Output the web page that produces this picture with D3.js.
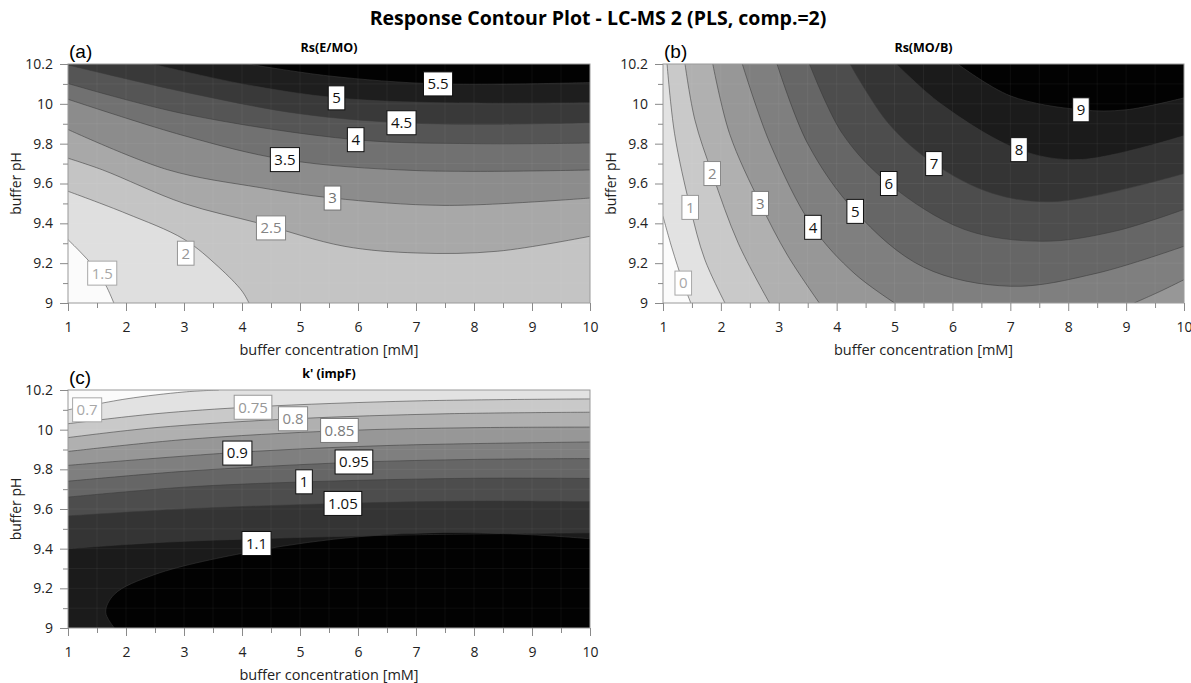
<!DOCTYPE html>
<html>
<head>
<meta charset="utf-8">
<script src="https://cdn.jsdelivr.net/npm/d3@7/dist/d3.min.js"></script>
<style>
  body { margin: 0; background: #fff; }
  svg { font-family: "Open Sans", "Noto Sans", sans-serif; }
</style>
</head>
<body>
<svg id="chart" width="1191" height="683"></svg>
<script>
// axis ticks (shared by all panels)
const concTicks = [1, 2, 3, 4, 5, 6, 7, 8, 9, 10];
const concMinor = [1.5, 2.5, 3.5, 4.5, 5.5, 6.5, 7.5, 8.5, 9.5];
const phTicks = [9, 9.2, 9.4, 9.6, 9.8, 10, 10.2];
const phMinor = [9.1, 9.3, 9.5, 9.7, 9.9, 10.1];

// (a) Rs(E/MO): contour levels, isolines as [conc, pH] pieces, label spots
const rsEmoLevels = [1.5, 2, 2.5, 3, 3.5, 4, 4.5, 5, 5.5];
const rsEmoLines = [
  [[[1, 9.318], [1.2, 9.26], [1.45, 9.18], [1.65, 9.09], [1.79, 9.0]]],
  [[[1, 9.561], [2, 9.45], [3, 9.32], [3.6, 9.18], [4.0, 9.06], [4.12, 9.0]]],
  [[[1, 9.727], [1.59, 9.669], [3, 9.5], [4.3, 9.40], [5.76, 9.285], [7.02, 9.251], [8.41, 9.26], [10, 9.335]]],
  [[[1, 9.871], [2.72, 9.669], [4.3, 9.58], [5.56, 9.527], [7.5, 9.49], [10, 9.527]]],
  [[[1, 10.023], [3, 9.84], [4.74, 9.72], [7, 9.665], [10, 9.668]]],
  [[[1, 10.102], [3, 9.95], [5.96, 9.82], [8, 9.80], [10, 9.803]]],
  [[[1, 10.195], [3, 10.06], [5, 9.95], [6.75, 9.905], [8.5, 9.898], [10, 9.905]]],
  [[[2.45, 10.2], [4, 10.1], [5.63, 10.03], [7.5, 10.005], [10, 10.006]]],
  [[[4.1, 10.2], [5.5, 10.14], [7.38, 10.10], [10, 10.107]]]
];
const rsEmoLabelPos = [[1.59, 9.15], [3.03, 9.25], [4.5, 9.377], [5.56, 9.527], [4.74, 9.72],
  [5.96, 9.82], [6.75, 9.905], [5.63, 10.03], [7.38, 10.10]];

// (b) Rs(MO/B)
const rsMobLevels = [0, 1, 2, 3, 4, 5, 6, 7, 8, 9];
const rsMobLines = [
  [[[1, 9.435], [1.15, 9.28], [1.35, 9.1], [1.48, 9.0]]],
  [[[1.07, 10.2], [1.2, 9.85], [1.47, 9.48], [1.72, 9.22], [2.07, 9.0]]],
  [[[1.38, 10.2], [1.55, 9.92], [1.85, 9.65], [2.3, 9.3], [2.84, 9.0]]],
  [[[1.86, 10.2], [2.15, 9.85], [2.68, 9.5], [3.15, 9.24], [3.7, 9.0]]],
  [[[2.37, 10.2], [2.85, 9.8], [3.59, 9.38], [4.3, 9.15], [5.0, 9.0]],
   [[9.14, 9.0], [9.6, 9.06], [10, 9.117]]],
  [[[2.97, 10.2], [3.5, 9.8], [4.32, 9.46], [5.5, 9.18], [7.0, 9.084], [8.5, 9.15], [10, 9.285]]],
  [[[3.53, 10.2], [4.1, 9.85], [4.9, 9.6], [6.2, 9.37], [7.55, 9.31], [8.8, 9.36], [10, 9.47]]],
  [[[4.23, 10.2], [4.9, 9.9], [5.68, 9.7], [6.7, 9.55], [7.8, 9.51], [10, 9.65]]],
  [[[5.03, 10.2], [5.8, 10.0], [7.15, 9.77], [8.2, 9.72], [10, 9.84]]],
  [[[6.09, 10.2], [7.0, 10.04], [8.22, 9.97], [9, 9.97], [10, 10.03]]]
];
const rsMobLabelPos = [[1.35, 9.1], [1.47, 9.48], [1.85, 9.65], [2.68, 9.5], [3.59, 9.38],
  [4.32, 9.46], [4.9, 9.6], [5.68, 9.7], [7.15, 9.77], [8.22, 9.97]];

// (c) k' (impF) - response falls with pH, so isolines are listed right-to-left
const kImpLevels = [0.7, 0.75, 0.8, 0.85, 0.9, 0.95, 1, 1.05, 1.1, 1.15];
const kImpLines = [
  [[[3.6, 10.2], [3, 10.19], [2, 10.155], [1, 10.10]]],
  [[[10, 10.155], [7, 10.145], [4.2, 10.115], [2.5, 10.08], [1, 10.03]]],
  [[[10, 10.088], [7.5, 10.08], [4.9, 10.055], [2.5, 10.01], [1, 9.96]]],
  [[[10, 10.013], [8, 10.01], [5.7, 9.995], [3, 9.95], [1, 9.89]]],
  [[[10, 9.938], [6.5, 9.92], [3.9, 9.885], [1, 9.82]]],
  [[[10, 9.854], [8, 9.85], [5.9, 9.835], [3, 9.79], [1, 9.74]]],
  [[[10, 9.754], [8, 9.755], [5.1, 9.737], [3, 9.71], [1, 9.66]]],
  [[[10, 9.637], [8, 9.64], [5.7, 9.628], [3, 9.60], [1, 9.565]]],
  [[[10, 9.48], [7, 9.47], [4.25, 9.45], [2.5, 9.43], [1, 9.40]]],
  [[[10, 9.45], [9, 9.47], [7.5, 9.48], [6, 9.46], [4.25, 9.39], [2.5, 9.27], [1.8, 9.17], [1.65, 9.08], [1.8, 9.0]]]
];
const kImpLabelPos = [[1.33, 10.10], [4.19, 10.113], [4.88, 10.055], [5.68, 9.996], [3.92, 9.882],
  [5.93, 9.837], [5.07, 9.737], [5.74, 9.628], [4.25, 9.426], null];

const svg = d3.select("#chart");
const defs = svg.append("defs");

svg.append("text")
  .attr("x", 598).attr("y", 25)
  .attr("text-anchor", "middle")
  .attr("font-weight", "bold")
  .attr("font-size", 19.5)
  .text("Response Contour Plot - LC-MS 2 (PLS, comp.=2)");

function drawPanel(cfg) {
  const [x0, x1, y0, y1] = cfg.box;
  const w = x1 - x0, h = y1 - y0, P = 2 * w + 2 * h;
  const x = d3.scaleLinear().domain([1, 10]).range([x0, x1]);
  const y = d3.scaleLinear().domain([9, 10.2]).range([y1, y0]);
  const n = cfg.levels.length;
  const bandColor = i => d3.interpolateRgb("#fbfbfb", "#020202")(i / n);

  const line = d3.line()
    .x(d => x(d[0]))
    .y(d => y(d[1]))
    .curve(d3.curveCatmullRom.alpha(0.5));

  // boundary walk, counter-clockwise on screen, starting at top-right corner;
  // each isoline keeps the higher response on its left
  const corners = [
    { x: x1, y: y0, t: 0 },
    { x: x0, y: y0, t: w },
    { x: x0, y: y1, t: w + h },
    { x: x1, y: y1, t: 2 * w + h }
  ];
  const eps = 0.5;
  function perim(px, py) {
    if (Math.abs(py - y0) < eps) return x1 - px;
    if (Math.abs(px - x0) < eps) return w + (py - y0);
    if (Math.abs(py - y1) < eps) return w + h + (px - x0);
    return 2 * w + h + (y1 - py);
  }
  function regionPath(pieces) {
    let d = "";
    pieces.forEach((p, j) => {
      const s = line(p);
      d += j ? "L" + s.slice(1) : s;
    });
    const first = pieces[0][0];
    const lastPiece = pieces[pieces.length - 1];
    const last = lastPiece[lastPiece.length - 1];
    const ts = perim(x(first[0]), y(first[1]));
    const te = perim(x(last[0]), y(last[1]));
    const span = (ts - te + P) % P;
    corners
      .map(c => ({ c, dc: (c.t - te + P) % P }))
      .filter(o => o.dc > 0 && o.dc < span)
      .sort((a, b) => a.dc - b.dc)
      .forEach(o => { d += `L${o.c.x},${o.c.y}`; });
    return d + "Z";
  }

  defs.append("clipPath").attr("id", "clip-" + cfg.id)
    .append("rect").attr("x", x0).attr("y", y0).attr("width", w).attr("height", h);

  const g = svg.append("g");
  const plot = g.append("g").attr("clip-path", `url(#clip-${cfg.id})`);

  plot.append("rect")
    .attr("x", x0).attr("y", y0).attr("width", w).attr("height", h)
    .attr("fill", bandColor(0));

  plot.selectAll(".band")
    .data(cfg.lines)
    .join("path")
    .attr("class", "band")
    .attr("d", pieces => regionPath(pieces))
    .attr("fill", (d, i) => bandColor(i + 1));

  // faint grid
  plot.selectAll(".vgrid")
    .data(concTicks.concat(concMinor))
    .join("line")
    .attr("x1", d => x(d)).attr("x2", d => x(d))
    .attr("y1", y0).attr("y2", y1)
    .attr("stroke", "#fff").attr("stroke-opacity", 0.05);
  plot.selectAll(".hgrid")
    .data(phTicks.concat(phMinor))
    .join("line")
    .attr("y1", d => y(d)).attr("y2", d => y(d))
    .attr("x1", x0).attr("x2", x1)
    .attr("stroke", "#fff").attr("stroke-opacity", 0.05);

  cfg.lines.forEach(pieces => {
    pieces.forEach(p => {
      plot.append("path")
        .attr("d", line(p))
        .attr("fill", "none")
        .attr("stroke", "#3a3a3a")
        .attr("stroke-opacity", 0.55)
        .attr("stroke-width", 1);
    });
  });

  g.append("rect")
    .attr("x", x0).attr("y", y0).attr("width", w).attr("height", h)
    .attr("fill", "none").attr("stroke", "#9a9a9a");

  // contour labels: low levels in grey, the rest in black
  const labelColor = i => {
    const t = i / (n - 1);
    return t < 0.4 ? d3.interpolateRgb("#a8a8a8", "#6e6e6e")(t / 0.4) : "#111";
  };
  cfg.levels.forEach((lv, i) => {
    const pos = cfg.labelPos[i];
    if (!pos) return;
    const lg = g.append("g").attr("transform", `translate(${x(pos[0])},${y(pos[1])})`);
    const txt = lg.append("text")
      .attr("text-anchor", "middle")
      .attr("dy", "0.36em")
      .attr("font-size", 15)
      .attr("fill", labelColor(i))
      .text(String(lv));
    const tw = txt.node().getComputedTextLength();
    lg.insert("rect", "text")
      .attr("x", -tw / 2 - 4).attr("y", -12)
      .attr("width", tw + 8).attr("height", 24)
      .attr("fill", "#fff")
      .attr("stroke", labelColor(i))
      .attr("stroke-width", 1);
  });

  // axes
  const styleAxis = sel => {
    sel.select(".domain").remove();
    sel.selectAll(".tick line").attr("stroke", "#8a8a8a");
    sel.selectAll(".tick text").attr("fill", "#222").attr("font-size", 14)
      .attr("font-family", '"Open Sans", sans-serif');
  };
  g.append("g").attr("transform", `translate(0,${y1})`)
    .call(d3.axisBottom(x).tickValues(concMinor).tickSize(5).tickFormat(""))
    .call(styleAxis);
  g.append("g").attr("transform", `translate(0,${y1})`)
    .call(d3.axisBottom(x).tickValues(concTicks).tickSize(8).tickPadding(11).tickFormat(d3.format("d")))
    .call(styleAxis);
  g.append("g").attr("transform", `translate(${x0},0)`)
    .call(d3.axisLeft(y).tickValues(phMinor).tickSize(5).tickFormat(""))
    .call(styleAxis);
  g.append("g").attr("transform", `translate(${x0},0)`)
    .call(d3.axisLeft(y).tickValues(phTicks).tickSize(8).tickPadding(7).tickFormat(d => String(+d.toFixed(1))))
    .call(styleAxis);

  g.append("text")
    .attr("x", (x0 + x1) / 2).attr("y", y1 + 52)
    .attr("text-anchor", "middle").attr("font-size", 14.5).attr("fill", "#222")
    .text("buffer concentration [mM]");
  g.append("text")
    .attr("transform", `translate(${x0 - 47},${(y0 + y1) / 2}) rotate(-90)`)
    .attr("text-anchor", "middle").attr("font-size", 14).attr("fill", "#222")
    .text("buffer pH");

  g.append("text")
    .attr("x", (x0 + x1) / 2).attr("y", y0 - 12)
    .attr("text-anchor", "middle").attr("font-weight", "bold").attr("font-size", 12.5)
    .text(cfg.title);
  g.append("text")
    .attr("x", x0 + 1).attr("y", y0 - 6)
    .attr("font-family", '"Liberation Sans", Arial, sans-serif')
    .attr("font-size", 19)
    .text(cfg.tag);
}

drawPanel({ id: "a", box: [68, 590, 64, 303], title: "Rs(E/MO)", tag: "(a)",
  levels: rsEmoLevels, lines: rsEmoLines, labelPos: rsEmoLabelPos });
drawPanel({ id: "b", box: [663, 1184, 64, 303], title: "Rs(MO/B)", tag: "(b)",
  levels: rsMobLevels, lines: rsMobLines, labelPos: rsMobLabelPos });
drawPanel({ id: "c", box: [68, 590, 390, 628], title: "k' (impF)", tag: "(c)",
  levels: kImpLevels, lines: kImpLines, labelPos: kImpLabelPos });
</script>
</body>
</html>
